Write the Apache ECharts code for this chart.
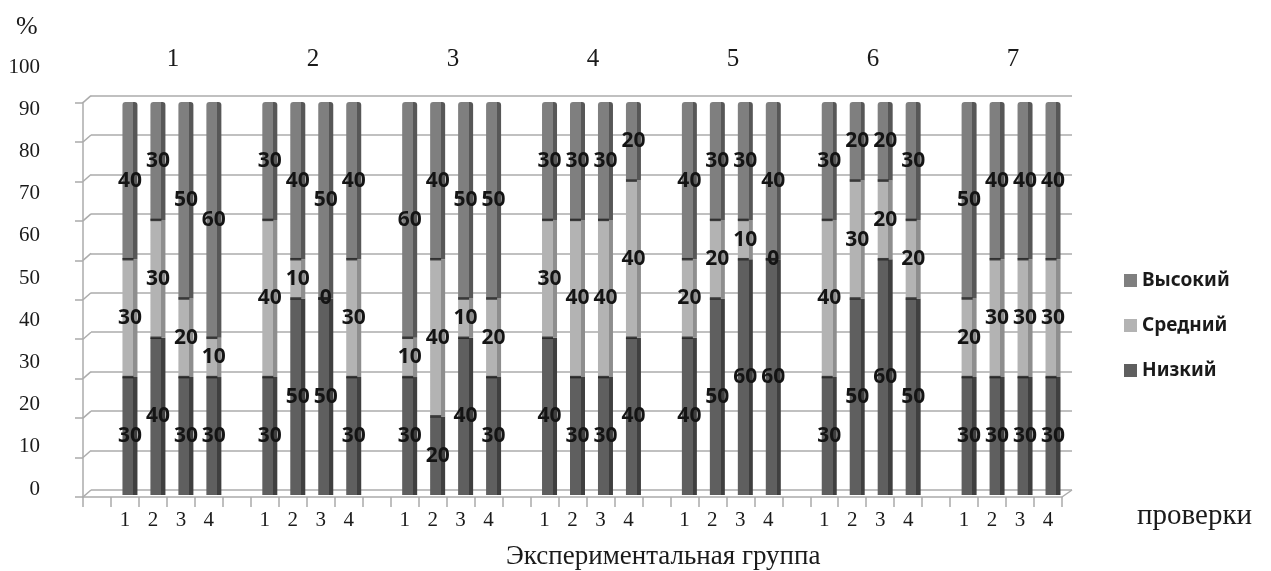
<!DOCTYPE html>
<html>
<head>
<meta charset="utf-8">
<script src="https://cdn.jsdelivr.net/npm/echarts@6/dist/echarts.min.js"></script>
<style>
  html, body { margin: 0; padding: 0; background: #fff; }
  #chart { width: 1271px; height: 571px; }
</style>
</head>
<body>
<div id="chart"></div>
<script>
// Groups (experimental groups) and checks within each group
const groups = ['1', '2', '3', '4', '5', '6', '7'];
const checks = ['1', '2', '3', '4'];

// Share of each level, %, per group in check order 1..4
const low = [30, 40, 30, 30,  30, 50, 50, 30,  30, 20, 40, 30,  40, 30, 30, 40,  40, 50, 60, 60,  30, 50, 60, 50,  30, 30, 30, 30];
const mid = [30, 30, 20, 10,  40, 10, 0, 30,   10, 40, 10, 20,  30, 40, 40, 40,  20, 20, 10, 0,   40, 30, 20, 20,  20, 30, 30, 30];
const high = [40, 30, 50, 60, 30, 40, 50, 40,  60, 40, 50, 50,  30, 30, 30, 20,  40, 30, 30, 40,  30, 20, 20, 30,  50, 40, 40, 40];

// Tick labels of the percent scale
const yTickValues = [0, 10, 20, 30, 40, 50, 60, 70, 80, 90, 100];

const seriesColors = {
  'Низкий': ['#5f5f5f', '#3f3f3f'],
  'Средний': ['#b3b3b3', '#8e8e8e'],
  'Высокий': ['#7f7f7f', '#575757']
};

// Each group takes one empty slot followed by its four checks
const slotLabels = [];
const slotIndex = [];
groups.forEach((g, gi) => {
  slotLabels.push('');
  slotIndex.push(null);
  checks.forEach((c, ci) => {
    slotLabels.push(c);
    slotIndex.push(gi * checks.length + ci);
  });
});
const toSlots = arr => slotIndex.map(k => (k === null ? '-' : arr[k]));

// Dark edges at the top of the lower two segments
const edges = [];
slotIndex.forEach((k, i) => {
  if (k === null) return;
  edges.push([i, low[k]]);
  edges.push([i, low[k] + mid[k]]);
});

const SERIF = 'Liberation Serif';
const SANS = 'Noto Sans';
const AXIS_GRAY = '#ababab';
const TEXT = '#1a1a1a';

function faceGradient(front, side) {
  return new echarts.graphic.LinearGradient(0, 0, 1, 0, [
    { offset: 0, color: front },
    { offset: 0.72, color: front },
    { offset: 0.72, color: side },
    { offset: 1, color: side }
  ]);
}

const barSeries = [
  { name: 'Низкий', data: toSlots(low) },
  { name: 'Средний', data: toSlots(mid) },
  { name: 'Высокий', data: toSlots(high) }
].map(s => ({
  name: s.name,
  type: 'bar',
  stack: 'levels',
  xAxisIndex: 0,
  yAxisIndex: 0,
  barWidth: 15,
  z: 2,
  data: s.data,
  itemStyle: {
    color: faceGradient(seriesColors[s.name][0], seriesColors[s.name][1]),
    borderRadius: s.name === 'Высокий' ? [3, 3, 0, 0] : 0
  },
  label: {
    show: true,
    position: 'inside',
    fontFamily: SANS,
    fontWeight: 'bold',
    fontSize: 21,
    color: '#141414'
  }
}));

const chart = echarts.init(document.getElementById('chart'), null, { renderer: 'canvas' });

chart.setOption({
  animation: false,
  backgroundColor: '#ffffff',
  title: [
    { text: '%', left: 16, top: 14, padding: 0, textStyle: { fontFamily: SERIF, fontSize: 26, fontWeight: 'normal', color: TEXT } },
    { text: 'Экспериментальная группа', left: 506, top: 543, padding: 0, textStyle: { fontFamily: SERIF, fontSize: 27, fontWeight: 'normal', color: TEXT } },
    { text: 'проверки', left: 1137, top: 502, padding: 0, textStyle: { fontFamily: SERIF, fontSize: 29, fontWeight: 'normal', color: TEXT } }
  ],
  legend: {
    orient: 'vertical',
    left: 1124,
    top: 271,
    padding: 0,
    itemWidth: 13,
    itemHeight: 13,
    itemGap: 26,
    icon: 'rect',
    textStyle: { fontFamily: SANS, fontWeight: 'bold', fontSize: 19, color: TEXT },
    data: ['Высокий', 'Средний', 'Низкий'].map(n => ({ name: n, itemStyle: { color: seriesColors[n][0] } }))
  },
  grid: [
    // 0: bars
    { left: 88, right: 204, top: 102, bottom: 76 },
    // 1: front floor edge and left wall edge
    { left: 83, right: 209, top: 102.6, bottom: 74 },
    // 2: back wall gridlines
    { left: 91, right: 199, top: 95.6, bottom: 81 },
    // 3: percent scale labels
    { left: 44, width: 1, top: 67, bottom: 82 },
    // 4: group numbers along the top
    { left: 103, right: 188, top: 80, height: 1 }
  ],
  xAxis: [
    { gridIndex: 0, type: 'category', data: slotLabels, show: false },
    {
      gridIndex: 1, type: 'category', data: slotLabels,
      axisLine: { show: true, lineStyle: { color: AXIS_GRAY, width: 1.5 } },
      axisTick: { show: true, length: 10, interval: 0, lineStyle: { color: AXIS_GRAY, width: 1.5 } },
      axisLabel: { interval: 0, margin: 13, fontFamily: SERIF, fontSize: 21, color: TEXT }
    },
    { gridIndex: 2, type: 'value', min: 0, max: 1, show: false },
    { gridIndex: 3, type: 'value', show: false },
    {
      gridIndex: 4, type: 'category', position: 'top', data: groups,
      axisLine: { show: false }, axisTick: { show: false },
      axisLabel: { margin: 8, fontFamily: SERIF, fontSize: 25, color: TEXT }
    }
  ],
  yAxis: [
    { gridIndex: 0, type: 'value', min: 0, max: 100, interval: 10, show: false },
    {
      gridIndex: 1, type: 'value', min: 0, max: 100, interval: 10,
      axisLine: { show: true, lineStyle: { color: AXIS_GRAY, width: 1.5 } },
      axisTick: { show: true, length: 8, lineStyle: { color: AXIS_GRAY, width: 1.5 } },
      axisLabel: { show: false },
      splitLine: { show: false }
    },
    {
      gridIndex: 2, type: 'value', min: 0, max: 100, interval: 10,
      axisLine: { show: false }, axisTick: { show: false }, axisLabel: { show: false },
      splitLine: { show: true, lineStyle: { color: AXIS_GRAY, width: 1.5 } }
    },
    {
      gridIndex: 3, type: 'category', data: yTickValues.map(String), boundaryGap: false,
      axisLine: { show: false }, axisTick: { show: false }, splitLine: { show: false },
      axisLabel: { interval: 0, margin: 4, fontFamily: SERIF, fontSize: 21, color: TEXT }
    },
    { gridIndex: 4, type: 'value', show: false }
  ],
  series: [
    // Slanted joins between the back wall lines and the left wall edge
    {
      type: 'custom',
      xAxisIndex: 2,
      yAxisIndex: 2,
      silent: true,
      z: 1,
      data: yTickValues.map(v => [0, v]),
      renderItem: function (params, api) {
        const v = api.value(1);
        const p = api.coord([0, v]);
        const children = [{
          type: 'line',
          shape: { x1: p[0] - 8, y1: p[1] + 7, x2: p[0], y2: p[1] },
          style: { stroke: AXIS_GRAY, lineWidth: 1.5 }
        }];
        if (v === 0) {
          const q = api.coord([1, 0]);
          children.push({
            type: 'line',
            shape: { x1: q[0] - 10, y1: q[1] + 7, x2: q[0], y2: q[1] },
            style: { stroke: AXIS_GRAY, lineWidth: 1.5 }
          });
        }
        return { type: 'group', children: children };
      }
    },
    ...barSeries,
    {
      type: 'scatter',
      xAxisIndex: 0,
      yAxisIndex: 0,
      silent: true,
      z: 3,
      symbol: 'rect',
      symbolSize: [11, 2.5],
      symbolOffset: [-2, 0],
      itemStyle: { color: '#1c1c1c' },
      data: edges
    }
  ]
});
</script>
</body>
</html>
